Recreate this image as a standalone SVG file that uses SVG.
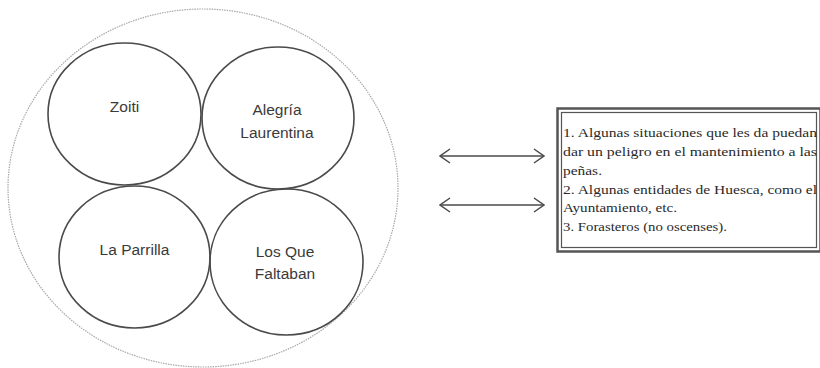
<svg xmlns="http://www.w3.org/2000/svg" width="820" height="368" viewBox="0 0 820 368">
<defs>
<style>
.grp{fill:none;stroke:#4a4a4a;stroke-width:1.6}
.lbl{font-family:"Liberation Sans",Arial,sans-serif;font-size:15.5px;fill:#3a3a3a;text-anchor:middle}
.box{font-family:"Liberation Serif","Times New Roman",serif;font-size:13.5px;fill:#2a2a2a}
.conn{stroke:#4a4a4a;stroke-width:1.4;fill:none}
</style>
<marker id="head" viewBox="0 0 12 16" refX="11" refY="8" markerWidth="12" markerHeight="16" markerUnits="userSpaceOnUse" orient="auto-start-reverse">
<path d="M1,1 L11,8 L1,15" fill="none" stroke="#4a4a4a" stroke-width="1.5"/>
</marker>
</defs>
<rect width="820" height="368" fill="#fff"/>
<g id="outer">
<ellipse cx="203" cy="188" rx="195" ry="179" fill="none" stroke="#a8a8a8" stroke-width="1.2" stroke-dasharray="1.5 1"/>
</g>
<g id="zoiti">
<ellipse class="grp" cx="124.5" cy="114" rx="76.5" ry="71"/>
<text class="lbl" x="124.5" y="112">Zoiti</text>
</g>
<g id="alegria">
<ellipse class="grp" cx="278" cy="118" rx="76" ry="71"/>
<text class="lbl" x="277" y="115">Alegría</text>
<text class="lbl" x="277" y="138">Laurentina</text>
</g>
<g id="parrilla">
<ellipse class="grp" cx="134.5" cy="257" rx="75.5" ry="71"/>
<text class="lbl" x="134.5" y="255">La Parrilla</text>
</g>
<g id="faltaban">
<ellipse class="grp" cx="286.5" cy="262" rx="76.5" ry="73"/>
<text class="lbl" x="285" y="257">Los Que</text>
<text class="lbl" x="285" y="279">Faltaban</text>
</g>
<g id="connectors">
<line class="conn" x1="440" y1="156" x2="544" y2="156" marker-start="url(#head)" marker-end="url(#head)"/>
<line class="conn" x1="440" y1="205" x2="544" y2="205" marker-start="url(#head)" marker-end="url(#head)"/>
</g>
<g id="textbox">
<rect x="557.5" y="108.5" width="263" height="143" fill="none" stroke="#555" stroke-width="2.5"/>
<rect x="561.5" y="112.5" width="255" height="135" fill="none" stroke="#555" stroke-width="1.2"/>
<text class="box" x="563" y="137" textLength="254" lengthAdjust="spacingAndGlyphs">1. Algunas situaciones que les da puedan</text>
<text class="box" x="563" y="156" textLength="254" lengthAdjust="spacingAndGlyphs">dar un peligro en el mantenimiento a las</text>
<text class="box" x="563" y="175" textLength="39" lengthAdjust="spacingAndGlyphs">peñas.</text>
<text class="box" x="563" y="194" textLength="254" lengthAdjust="spacingAndGlyphs">2. Algunas entidades de Huesca, como el</text>
<text class="box" x="563" y="212" textLength="114" lengthAdjust="spacingAndGlyphs">Ayuntamiento, etc.</text>
<text class="box" x="563" y="231" textLength="164" lengthAdjust="spacingAndGlyphs">3. Forasteros (no oscenses).</text>
</g>
</svg>
